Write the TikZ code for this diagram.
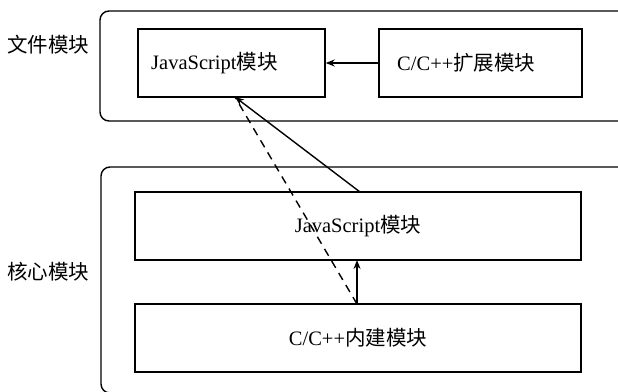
\documentclass[tikz,border=0pt]{standalone}
\usepackage{fontspec}
\setmainfont{Liberation Serif}
\newfontfamily\cjk{Noto Sans CJK SC}
\usetikzlibrary{arrows.meta}
\begin{document}
\begin{tikzpicture}[x=1pt,y=-1pt,
  outerbox/.style={draw,line width=1.4pt,rounded corners=9pt},
  modbox/.style={draw,line width=1.4pt,inner sep=0pt},
  txt/.style={font=\fontsize{20.5}{24}\selectfont},
  conn/.style={line width=1.4pt,-{Stealth[length=9pt,width=7pt]}},
  dconn/.style={line width=1.4pt,dash pattern=on 8pt off 6pt}
]
\useasboundingbox (0,0) rectangle (618,391);
\clip (0,0) rectangle (618,391);
% outer groups (their right side runs off the picture)
\draw[outerbox] (100,11) rectangle (630,121);
\draw[outerbox] (101,167) rectangle (630,393);
\node[txt] (flabel) at (48,45) {\cjk 文件模块};
\node[txt] (clabel) at (48,272) {\cjk 核心模块};
% file modules
\node[modbox,minimum width=187pt,minimum height=68pt] (fjs) at (231.5,63) {};
\node[txt,anchor=west,inner sep=0pt] (fjst) at (151,63) {JavaScript{\cjk 模块}};
\node[modbox,minimum width=203pt,minimum height=68pt] (ext) at (480.5,63) {};
\node[txt,anchor=west,inner sep=0pt] (extt) at (397,63) {C/C++{\cjk 扩展模块}};
% core modules
\node[modbox,minimum width=446pt,minimum height=68pt] (cjs) at (358,226) {};
\node[txt] (cjst) at (358,226) {JavaScript{\cjk 模块}};
\node[modbox,minimum width=446pt,minimum height=68pt] (cpp) at (358,338) {};
\node[txt] (cppt) at (358,338) {C/C++{\cjk 内建模块}};
% connectors
\coordinate (tip) at (235,97);
\coordinate (cjstop) at (360,192);
\coordinate (cpptop) at (357,304);
\coordinate (cjsbot) at (357,260);
\draw[conn] (ext.west) -- (fjs.east);
\draw[conn] (cjstop) -- (tip);
\draw[dconn] (cpptop) -- (tip);
\draw[conn] (cpptop) -- (cjsbot);
\end{tikzpicture}
\end{document}
